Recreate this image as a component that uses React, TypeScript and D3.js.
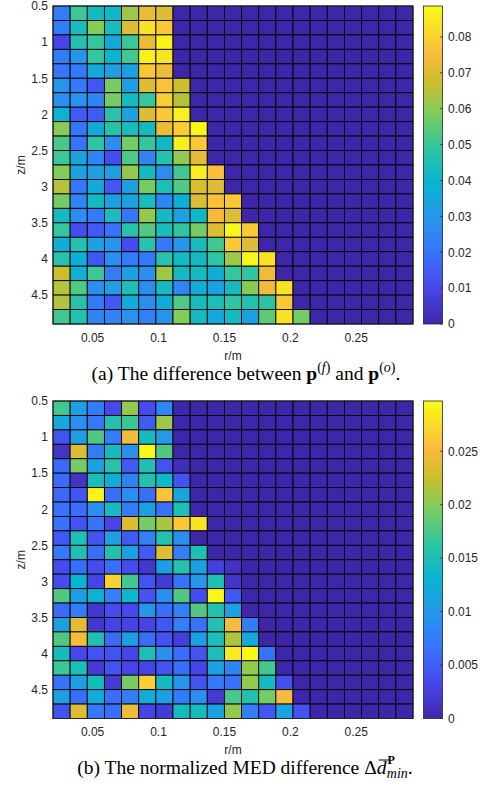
import React, { useLayoutEffect, useRef, useState } from "react";
import * as d3 from "d3";

// column centres (r, m) and row centres (z, m)
const rCenters = [0.0265, 0.0395, 0.0525, 0.0655, 0.0785, 0.0915, 0.1045, 0.1175, 0.1305, 0.1435, 0.1565, 0.1695, 0.1825, 0.1955, 0.2085, 0.2215, 0.2345, 0.2475, 0.2605, 0.2735, 0.2865];
const zCenters = [0.6, 0.8, 1.0, 1.2, 1.4, 1.6, 1.8, 2.0, 2.2, 2.4, 2.6, 2.8, 3.0, 3.2, 3.4, 3.6, 3.8, 4.0, 4.2, 4.4, 4.6, 4.8];
const cellR = 0.013;
const cellZ = 0.2;
const rDomain = [0.02, 0.293];
const zDomain = [0.5, 4.9];

const xTicks = [0.05, 0.1, 0.15, 0.2, 0.25];
const yTicks = [0.5, 1, 1.5, 2, 2.5, 3, 3.5, 4, 4.5];
const yTickLabels = ["0.5", "1", "1.5", "2", "2.5", "3", "3.5", "4", "4.5"];
const xTickLabels = ["0.05", "0.1", "0.15", "0.2", "0.25"];
const cbTicksA = [0, 0.01, 0.02, 0.03, 0.04, 0.05, 0.06, 0.07, 0.08];
const cbLabelsA = ["0", "0.01", "0.02", "0.03", "0.04", "0.05", "0.06", "0.07", "0.08"];
const cbTicksB = [0, 0.005, 0.01, 0.015, 0.02, 0.025];
const cbLabelsB = ["0", "0.005", "0.01", "0.015", "0.02", "0.025"];
const cmaxA = 0.0886;
const cmaxB = 0.0297;

// (a) difference between p(f) and p(o)
const diffP = [
  [0.0222, 0.0505, 0.0425, 0.0408, 0.0620, 0.0727, 0.0700, 0, 0, 0, 0, 0, 0, 0, 0, 0, 0, 0, 0, 0, 0],
  [0.0222, 0.0434, 0.0594, 0.0434, 0.0700, 0.0833, 0.0780, 0, 0, 0, 0, 0, 0, 0, 0, 0, 0, 0, 0, 0, 0],
  [0.0089, 0.0461, 0.0496, 0.0354, 0.0505, 0.0727, 0.0868, 0, 0, 0, 0, 0, 0, 0, 0, 0, 0, 0, 0, 0, 0],
  [0.0222, 0.0292, 0.0496, 0.0399, 0.0514, 0.0868, 0.0842, 0, 0, 0, 0, 0, 0, 0, 0, 0, 0, 0, 0, 0, 0],
  [0.0204, 0.0213, 0.0363, 0.0319, 0.0328, 0.0780, 0.0735, 0, 0, 0, 0, 0, 0, 0, 0, 0, 0, 0, 0, 0, 0],
  [0.0292, 0.0213, 0.0133, 0.0576, 0.0328, 0.0700, 0.0771, 0.0673, 0, 0, 0, 0, 0, 0, 0, 0, 0, 0, 0, 0, 0],
  [0.0275, 0.0284, 0.0248, 0.0576, 0.0425, 0.0496, 0.0789, 0.0647, 0, 0, 0, 0, 0, 0, 0, 0, 0, 0, 0, 0, 0],
  [0.0381, 0.0142, 0.0142, 0.0470, 0.0337, 0.0700, 0.0780, 0.0868, 0, 0, 0, 0, 0, 0, 0, 0, 0, 0, 0, 0, 0],
  [0.0602, 0.0204, 0.0363, 0.0470, 0.0434, 0.0425, 0.0727, 0.0789, 0.0877, 0, 0, 0, 0, 0, 0, 0, 0, 0, 0, 0, 0],
  [0.0523, 0.0195, 0.0487, 0.0266, 0.0576, 0.0496, 0.0416, 0.0859, 0.0780, 0, 0, 0, 0, 0, 0, 0, 0, 0, 0, 0, 0],
  [0.0505, 0.0337, 0.0248, 0.0115, 0.0532, 0.0248, 0.0461, 0.0611, 0.0718, 0, 0, 0, 0, 0, 0, 0, 0, 0, 0, 0, 0],
  [0.0594, 0.0337, 0.0319, 0.0319, 0.0611, 0.0425, 0.0266, 0.0514, 0.0859, 0.0762, 0, 0, 0, 0, 0, 0, 0, 0, 0, 0, 0],
  [0.0647, 0.0204, 0.0354, 0.0133, 0.0328, 0.0576, 0.0443, 0.0532, 0.0691, 0.0700, 0, 0, 0, 0, 0, 0, 0, 0, 0, 0, 0],
  [0.0576, 0.0248, 0.0425, 0.0319, 0.0337, 0.0434, 0.0248, 0.0372, 0.0700, 0.0762, 0.0780, 0, 0, 0, 0, 0, 0, 0, 0, 0, 0],
  [0.0425, 0.0266, 0.0222, 0.0434, 0.0204, 0.0611, 0.0425, 0.0328, 0.0408, 0.0744, 0.0700, 0, 0, 0, 0, 0, 0, 0, 0, 0, 0],
  [0.0496, 0.0115, 0.0142, 0.0195, 0.0470, 0.0532, 0.0434, 0.0487, 0.0576, 0.0700, 0.0877, 0.0780, 0, 0, 0, 0, 0, 0, 0, 0, 0],
  [0.0372, 0.0461, 0.0328, 0.0292, 0.0106, 0.0470, 0.0213, 0.0292, 0.0434, 0.0514, 0.0780, 0.0700, 0, 0, 0, 0, 0, 0, 0, 0, 0],
  [0.0470, 0.0372, 0.0133, 0.0275, 0.0222, 0.0213, 0.0470, 0.0425, 0.0425, 0.0487, 0.0620, 0.0877, 0.0833, 0, 0, 0, 0, 0, 0, 0, 0],
  [0.0673, 0.0381, 0.0505, 0.0222, 0.0328, 0.0275, 0.0620, 0.0425, 0.0425, 0.0372, 0.0496, 0.0487, 0.0735, 0, 0, 0, 0, 0, 0, 0, 0],
  [0.0647, 0.0532, 0.0275, 0.0319, 0.0452, 0.0266, 0.0425, 0.0248, 0.0372, 0.0328, 0.0425, 0.0594, 0.0735, 0.0833, 0, 0, 0, 0, 0, 0, 0],
  [0.0647, 0.0470, 0.0213, 0.0133, 0.0372, 0.0266, 0.0363, 0.0532, 0.0434, 0.0443, 0.0487, 0.0461, 0.0478, 0.0780, 0, 0, 0, 0, 0, 0, 0],
  [0.0514, 0.0461, 0.0248, 0.0248, 0.0284, 0.0230, 0.0284, 0.0594, 0.0425, 0.0346, 0.0425, 0.0328, 0.0549, 0.0833, 0.0576, 0, 0, 0, 0, 0, 0],
];

// (b) normalized MED difference
const medDiff = [
  [0.0172, 0.0110, 0.0074, 0.0033, 0.0205, 0.0036, 0.0083, 0, 0, 0, 0, 0, 0, 0, 0, 0, 0, 0, 0, 0, 0],
  [0.0116, 0.0092, 0.0071, 0.0154, 0.0169, 0.0048, 0.0208, 0, 0, 0, 0, 0, 0, 0, 0, 0, 0, 0, 0, 0, 0],
  [0.0042, 0.0110, 0.0178, 0.0074, 0.0249, 0.0143, 0.0101, 0, 0, 0, 0, 0, 0, 0, 0, 0, 0, 0, 0, 0, 0],
  [0.0015, 0.0235, 0.0074, 0.0143, 0.0092, 0.0294, 0.0178, 0, 0, 0, 0, 0, 0, 0, 0, 0, 0, 0, 0, 0, 0],
  [0.0059, 0.0193, 0.0110, 0.0157, 0.0048, 0.0151, 0.0042, 0.0009, 0, 0, 0, 0, 0, 0, 0, 0, 0, 0, 0, 0, 0],
  [0.0059, 0.0015, 0.0146, 0.0125, 0.0077, 0.0154, 0.0137, 0.0042, 0, 0, 0, 0, 0, 0, 0, 0, 0, 0, 0, 0, 0],
  [0.0059, 0.0045, 0.0291, 0.0062, 0.0092, 0.0062, 0.0258, 0.0116, 0, 0, 0, 0, 0, 0, 0, 0, 0, 0, 0, 0, 0],
  [0.0065, 0.0062, 0.0092, 0.0143, 0.0074, 0.0110, 0.0065, 0.0151, 0, 0, 0, 0, 0, 0, 0, 0, 0, 0, 0, 0, 0],
  [0.0065, 0.0042, 0.0065, 0.0030, 0.0232, 0.0193, 0.0214, 0.0261, 0.0279, 0, 0, 0, 0, 0, 0, 0, 0, 0, 0, 0, 0],
  [0.0045, 0.0151, 0.0042, 0.0107, 0.0048, 0.0077, 0.0154, 0.0092, 0, 0, 0, 0, 0, 0, 0, 0, 0, 0, 0, 0, 0],
  [0.0071, 0.0151, 0.0062, 0.0154, 0.0110, 0.0048, 0.0235, 0.0077, 0.0151, 0, 0, 0, 0, 0, 0, 0, 0, 0, 0, 0, 0],
  [0.0036, 0.0062, 0.0036, 0.0062, 0.0036, 0.0018, 0.0107, 0.0157, 0.0110, 0.0027, 0.0012, 0, 0, 0, 0, 0, 0, 0, 0, 0, 0],
  [0.0036, 0.0131, 0.0030, 0.0267, 0.0172, 0.0042, 0.0021, 0.0065, 0.0098, 0.0151, 0.0015, 0, 0, 0, 0, 0, 0, 0, 0, 0, 0],
  [0.0178, 0.0110, 0.0131, 0.0077, 0.0137, 0.0042, 0.0092, 0.0178, 0.0036, 0.0294, 0.0045, 0, 0, 0, 0, 0, 0, 0, 0, 0, 0],
  [0.0059, 0.0074, 0.0018, 0.0036, 0.0033, 0.0098, 0.0062, 0.0077, 0.0178, 0.0154, 0.0110, 0, 0, 0, 0, 0, 0, 0, 0, 0, 0],
  [0.0110, 0.0238, 0.0018, 0.0030, 0.0030, 0.0030, 0.0045, 0.0077, 0.0065, 0.0154, 0.0249, 0.0074, 0, 0, 0, 0, 0, 0, 0, 0, 0],
  [0.0178, 0.0252, 0.0154, 0.0059, 0.0110, 0.0062, 0.0042, 0.0024, 0.0110, 0.0149, 0.0214, 0.0119, 0, 0, 0, 0, 0, 0, 0, 0, 0],
  [0.0143, 0.0033, 0.0042, 0.0042, 0.0030, 0.0149, 0.0092, 0.0062, 0.0042, 0.0149, 0.0285, 0.0294, 0.0065, 0, 0, 0, 0, 0, 0, 0, 0],
  [0.0169, 0.0149, 0.0021, 0.0042, 0.0030, 0.0030, 0.0042, 0.0062, 0.0030, 0.0110, 0.0083, 0.0205, 0.0172, 0, 0, 0, 0, 0, 0, 0, 0],
  [0.0065, 0.0107, 0.0143, 0.0021, 0.0193, 0.0267, 0.0143, 0.0098, 0.0042, 0.0071, 0.0065, 0.0205, 0.0143, 0.0039, 0, 0, 0, 0, 0, 0, 0],
  [0.0107, 0.0062, 0.0122, 0.0062, 0.0077, 0.0122, 0.0107, 0.0074, 0.0092, 0.0021, 0.0175, 0.0154, 0.0193, 0.0252, 0, 0, 0, 0, 0, 0, 0],
  [0.0042, 0.0235, 0.0071, 0.0062, 0.0244, 0.0030, 0.0021, 0.0143, 0.0143, 0.0110, 0.0205, 0.0077, 0.0045, 0.0113, 0.0042, 0, 0, 0, 0, 0, 0],
];

// parula-like colormap
const parulaStops = [0, 0.111, 0.222, 0.333, 0.444, 0.556, 0.667, 0.76, 0.85, 0.9, 1];
const parulaColors = ["#3e26a8", "#4747eb", "#3773fc", "#2796eb", "#08b5d0", "#31c69f", "#81cc59", "#cdbe2d", "#faba3e", "#fad130", "#f9fb15"];

const AX = "#262626";
const SANS = "'Liberation Sans', Arial, Helvetica, sans-serif";
const SERIF = "'Liberation Serif', 'Times New Roman', serif";

type PanelProps = {
  data: number[][];
  y0: number;
  y1: number;
  cmax: number;
  cbTicks: number[];
  cbLabels: string[];
  gradId: string;
};

function Panel({ data, y0, y1, cmax, cbTicks, cbLabels, gradId }: PanelProps) {
  const x = d3.scaleLinear().domain(rDomain).range([53, 413]);
  const y = d3.scaleLinear().domain(zDomain).range([y0, y1]);
  const color = d3
    .scaleLinear<string>()
    .domain(parulaStops.map((s) => s * cmax))
    .range(parulaColors)
    .interpolate(d3.interpolateRgb)
    .clamp(true);
  const cb = d3.scaleLinear().domain([0, cmax]).range([y1, y0]);
  const cbX0 = 423.5;
  const cbX1 = 442.5;

  return (
    <g>
      <defs>
        <linearGradient id={gradId} x1="0" y1="1" x2="0" y2="0">
          {parulaStops.map((s, i) => (
            <stop key={i} offset={s} stopColor={parulaColors[i]} />
          ))}
        </linearGradient>
      </defs>
      {data.map((row, j) =>
        row.map((v, i) => {
          const xa = x(rCenters[i] - cellR / 2);
          const xb = x(rCenters[i] + cellR / 2);
          const ya = y(zCenters[j] - cellZ / 2);
          const yb = y(zCenters[j] + cellZ / 2);
          return (
            <rect
              key={`${j}-${i}`}
              x={xa}
              y={ya}
              width={xb - xa}
              height={yb - ya}
              fill={color(v)}
              stroke="#000"
              strokeWidth={0.9}
            />
          );
        })
      )}
      <rect x={53} y={y0} width={360} height={y1 - y0} fill="none" stroke={AX} strokeWidth={1} />
      {xTicks.map((t, i) => (
        <text key={t} x={x(t)} y={y1 + 17.5} textAnchor="middle" fontFamily={SANS} fontSize={12} fill={AX}>
          {xTickLabels[i]}
        </text>
      ))}
      {yTicks.map((t, i) => (
        <text key={t} x={48} y={y(t) + 4.3} textAnchor="end" fontFamily={SANS} fontSize={12} fill={AX}>
          {yTickLabels[i]}
        </text>
      ))}
      <text x={233} y={y1 + 35.5} textAnchor="middle" fontFamily={SANS} fontSize={12} fill={AX}>
        r/m
      </text>
      <text
        transform={`translate(25,${(y0 + y1) / 2}) rotate(-90)`}
        textAnchor="middle"
        fontFamily={SANS}
        fontSize={12}
        fill={AX}
      >
        z/m
      </text>
      <rect x={cbX0} y={y0} width={cbX1 - cbX0} height={y1 - y0} fill={`url(#${gradId})`} stroke={AX} strokeWidth={0.8} />
      {cbTicks.map((t, i) => (
        <g key={t}>
          <line x1={cbX1 - 2.5} x2={cbX1} y1={cb(t)} y2={cb(t)} stroke={AX} strokeWidth={0.8} />
          <text x={448} y={cb(t) + 4.3} fontFamily={SANS} fontSize={12} fill={AX}>
            {cbLabels[i]}
          </text>
        </g>
      ))}
    </g>
  );
}

export default function App() {
  const capRef = useRef<SVGTextElement>(null);
  const [bar, setBar] = useState<{ x1: number; x2: number; y: number } | null>(null);

  useLayoutEffect(() => {
    const el = capRef.current;
    if (!el) return;
    const txt = el.textContent || "";
    const idx = txt.indexOf("Δ") + 1;
    try {
      const r = el.getExtentOfChar(idx);
      setBar({ x1: r.x + 2, x2: r.x + r.width + 2.5, y: r.y + 3 });
    } catch (e) {
      /* ignore */
    }
  }, []);

  return (
    <svg
      width={484}
      height={791}
      style={{ position: "absolute", left: 0, top: 0, display: "block", background: "#fff" }}
    >
      <rect x={0} y={0} width={484} height={791} fill="#fff" />
      <Panel data={diffP} y0={6} y1={324} cmax={cmaxA} cbTicks={cbTicksA} cbLabels={cbLabelsA} gradId="cbA" />
      <Panel data={medDiff} y0={401} y1={718.5} cmax={cmaxB} cbTicks={cbTicksB} cbLabels={cbLabelsB} gradId="cbB" />

      <text x={246} y={380} textAnchor="middle" fontFamily={SERIF} fontSize={19.5} fill="#000">
        (a) The difference between <tspan fontWeight="bold">p</tspan>
        <tspan fontSize={14} dy={-8}>
          (<tspan fontStyle="italic">f</tspan>)
        </tspan>
        <tspan dy={8}> and </tspan>
        <tspan fontWeight="bold">p</tspan>
        <tspan fontSize={14} dy={-8}>
          (<tspan fontStyle="italic">o</tspan>)
        </tspan>
        <tspan dy={8}>.</tspan>
      </text>

      <text ref={capRef} x={245} y={774} textAnchor="middle" fontFamily={SERIF} fontSize={19.5} fill="#000">
        (b) The normalized MED difference Δ<tspan fontStyle="italic">d</tspan>
        <tspan fontWeight="bold" fontSize={12} dx={1} dy={-10}>
          P
        </tspan>
        <tspan fontStyle="italic" fontSize={14} dx={-8} dy={14}>
          min
        </tspan>
        <tspan dy={-4}>.</tspan>
      </text>
      {bar && <line x1={bar.x1} x2={bar.x2} y1={bar.y} y2={bar.y} stroke="#000" strokeWidth={1} />}
    </svg>
  );
}
